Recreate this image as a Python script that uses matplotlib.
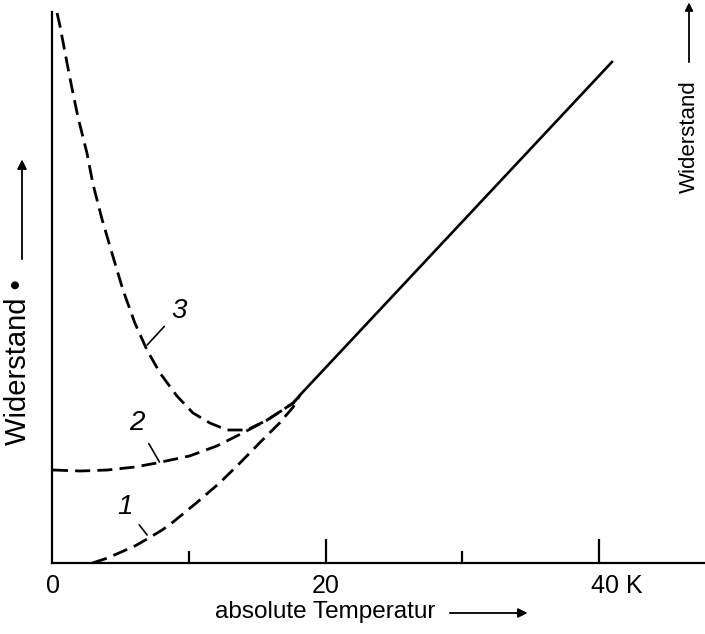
import matplotlib.pyplot as plt
import matplotlib.transforms as mtransforms

# Data (resistance in arbitrary units)
temps_1 = [2.9, 4.0, 5.0, 6.0, 6.9, 8.0, 8.8, 10.5, 12.2, 13.7, 15.2, 16.6,
           17.6, 18.1]
res_1 = [0.0, 0.5, 1.1, 1.7, 2.4, 3.3, 4.1, 6.0, 8.0, 10.0, 12.1, 14.0,
         15.6, 16.8]

temps_2 = [0.0, 2.0, 4.0, 6.0, 7.6, 10.0, 12.0, 13.9, 15.7, 17.6, 18.1]
res_2 = [9.3, 9.2, 9.3, 9.6, 10.0, 10.7, 11.7, 13.0, 14.3, 16.0, 16.8]

temps_3 = [0.3, 0.5, 1.03, 1.39, 1.83, 2.49, 2.93, 3.59, 4.32, 5.13, 6.0,
           6.89, 7.84, 9.08, 10.26, 11.5, 12.75, 14.2, 15.7, 17.6, 18.1]
res_3 = [55.0, 53.8, 50.0, 47.5, 44.6, 41.0, 37.9, 34.4, 31.0, 27.3, 24.0,
         21.3, 19.0, 16.7, 15.0, 14.0, 13.3, 13.3, 14.3, 16.0, 16.8]

temps_solid = [18.1, 40.95]
res_solid = [16.8, 50.1]

major_ticks = [0, 20, 40]
major_labels = ['0', '20', '40 K']
minor_ticks = [10, 30]

plt.rcParams['font.family'] = ['Liberation Sans', 'DejaVu Sans']

fig = plt.figure(figsize=(7.05, 6.34), dpi=100)
ax = fig.add_axes([52 / 705, 71 / 634, 1 - 52 / 705, (563 - 12) / 634])

dash = (5.4, 2.6)
for t, r in [(temps_1, res_1), (temps_2, res_2), (temps_3, res_3)]:
    line, = ax.plot(t, r, color='black', lw=2.0, solid_capstyle='butt')
    line.set_dashes(dash)
ax.plot(temps_solid, res_solid, color='black', lw=1.9)

ax.set_xlim(-0.07, 47.77)
ax.set_ylim(0, 55.1)

for side in ['top', 'right']:
    ax.spines[side].set_visible(False)
ax.spines['left'].set_linewidth(1.6)
ax.spines['bottom'].set_linewidth(1.6)

ax.set_yticks([])
ax.set_xticks(major_ticks, major_labels)
ax.set_xticks(minor_ticks, minor=True)
ax.tick_params(axis='x', which='major', direction='in', length=17, width=1.6,
               pad=8, labelsize=18)
ax.tick_params(axis='x', which='minor', direction='in', length=8.5, width=1.6)
ax.xaxis.get_major_ticks()[0].tick1line.set_visible(False)
last = ax.get_xticklabels()[-1]
last.set_horizontalalignment('left')
last.set_transform(last.get_transform() +
                   mtransforms.ScaledTranslation(-8 / 100, 0, fig.dpi_scale_trans))

# curve numbers with leader lines
for txt, xy, xytext in [('3', (6.9, 21.8), (9.2, 25.2)),
                        ('2', (7.8, 10.1), (6.15, 14.0)),
                        ('1', (6.9, 2.8), (5.3, 5.6))]:
    ax.annotate(txt, xy=xy, xytext=xytext, fontsize=20, style='italic',
                ha='center', va='center',
                arrowprops=dict(arrowstyle='-', lw=1.2, color='black',
                                shrinkA=4, shrinkB=0))

# axis titles with arrows
fig.text(325 / 705, 1 - 612 / 634, 'absolute Temperatur', fontsize=17.5,
         ha='center', va='center')
fig.add_artist(plt.annotate('', xy=(530 / 705, 1 - 613 / 634),
                            xytext=(447 / 705, 1 - 613 / 634),
                            xycoords='figure fraction',
                            arrowprops=dict(arrowstyle='-|>', lw=1.0,
                                            color='black', mutation_scale=14)))

fig.text(18 / 705, 1 - 362 / 634, 'Widerstand \u2022', fontsize=21,
         rotation=90, ha='center', va='center')
fig.add_artist(plt.annotate('', xy=(22 / 705, 1 - 157 / 634),
                            xytext=(22 / 705, 1 - 262 / 634),
                            xycoords='figure fraction',
                            arrowprops=dict(arrowstyle='-|>', lw=1.0,
                                            color='black', mutation_scale=14)))

fig.text(689 / 705, 1 - 137 / 634, 'Widerstand', fontsize=16,
         rotation=90, ha='center', va='center')
fig.add_artist(plt.annotate('', xy=(689 / 705, 1.0),
                            xytext=(689 / 705, 1 - 65 / 634),
                            xycoords='figure fraction',
                            arrowprops=dict(arrowstyle='-|>', lw=1.0,
                                            color='black', mutation_scale=12)))

plt.savefig('out.png', dpi=100)
